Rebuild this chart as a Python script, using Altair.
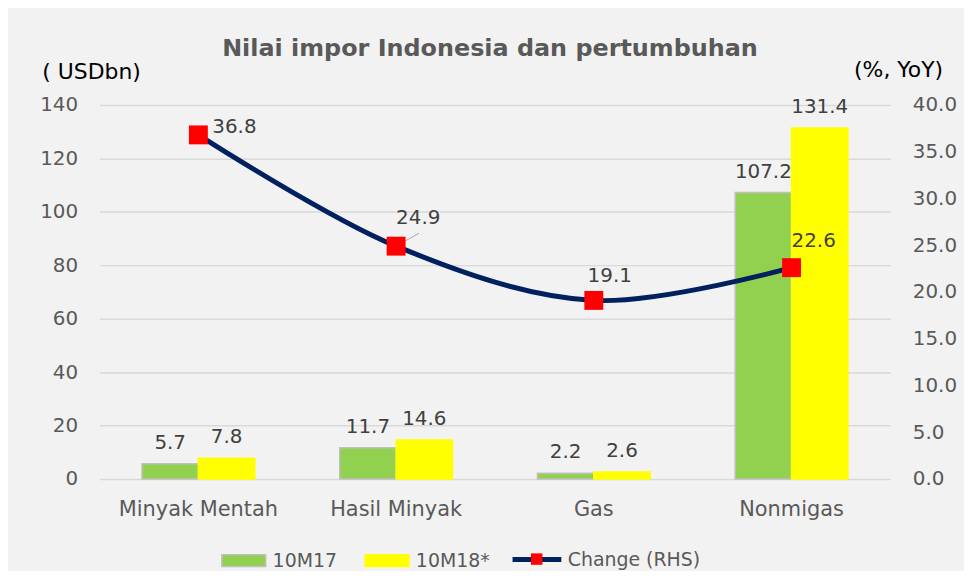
import altair as alt
import pandas as pd

CATEGORIES = ["Minyak Mentah", "Hasil Minyak", "Gas", "Nonmigas"]
SERIES = ["10M17", "10M18*"]
V_10M17 = [5.7, 11.7, 2.2, 107.2]
V_10M18 = [7.8, 14.6, 2.6, 131.4]
CHANGE = [36.8, 24.9, 19.1, 22.6]
LINE_LABEL = "Change (RHS)"
LEFT_TICKS = [0, 20, 40, 60, 80, 100, 120, 140]
RIGHT_TICKS = [0, 5, 10, 15, 20, 25, 30, 35, 40]

TITLE = "Nilai impor Indonesia dan pertumbuhan"
LEFT_TITLE = "( USDbn)"
RIGHT_TITLE = "(%, YoY)"

GREEN = "#92D050"
YELLOW = "#FFFF00"
NAVY = "#002060"
RED = "#FF0000"
GRAY_TXT = "#595959"
LABEL_TXT = "#404040"
FONT = "DejaVu Sans"

bars_df = pd.DataFrame({
    "category": CATEGORIES * 2,
    "series": [SERIES[0]] * len(CATEGORIES) + [SERIES[1]] * len(CATEGORIES),
    "value": V_10M17 + V_10M18,
})
line_df = pd.DataFrame({
    "category": CATEGORIES,
    "change": CHANGE,
    "lab": [LINE_LABEL] * len(CATEGORIES),
    "mk": ["marker"] * len(CATEGORIES),
})

x_enc = alt.X(
    "category:N", sort=CATEGORIES,
    scale=alt.Scale(paddingInner=0.43, paddingOuter=0.215),
    axis=alt.Axis(title=None, labelAngle=0, domain=False, ticks=False,
                  labelPadding=20, labelFontSize=21, labelColor=GRAY_TXT,
                  labelFont=FONT, grid=False),
)

y_left_scale = alt.Scale(domain=[0, 140], nice=False)
y_right_scale = alt.Scale(domain=[0, 40], nice=False)

bar_legend = alt.Legend(
    orient="none", legendX=122, legendY=435, direction="horizontal",
    title=None, padding=0, symbolType="M-1,-0.27H1V0.27H-1Z", symbolSize=1936,
    symbolStrokeWidth=1.5, labelFontSize=19, labelColor=GRAY_TXT,
    labelFont=FONT, labelOffset=6, columnPadding=25,
)

bars = alt.Chart(bars_df).mark_bar(strokeWidth=1.5).encode(
    x=x_enc,
    xOffset=alt.XOffset("series:N", sort=SERIES),
    y=alt.Y("value:Q", scale=y_left_scale,
            axis=alt.Axis(values=LEFT_TICKS, title=LEFT_TITLE, titleAngle=0,
                          titleAlign="left", titleBaseline="alphabetic",
                          titleX=-58, titleY=-27, titleFontSize=22,
                          titleFontWeight="normal", titleColor="#000000",
                          titleFont=FONT, labelFontSize=20, labelColor=GRAY_TXT,
                          labelFont=FONT, labelPadding=22, ticks=False,
                          domain=False, grid=True, gridColor="#D9D9D9",
                          gridWidth=1.5, orient="left")),
    fill=alt.Fill("series:N", scale=alt.Scale(domain=SERIES, range=[GREEN, YELLOW]),
                  legend=bar_legend),
    stroke=alt.Stroke("series:N", scale=alt.Scale(domain=SERIES, range=["#BFBFBF", YELLOW]),
                      legend=bar_legend),
)

bar_text = alt.Chart(bars_df).mark_text(
    dy=-15, baseline="alphabetic", fontSize=20, color=LABEL_TXT, font=FONT
).encode(
    x=x_enc,
    xOffset=alt.XOffset("series:N", sort=SERIES),
    y=alt.Y("value:Q", scale=y_left_scale),
    text=alt.Text("value:Q", format=".1f"),
)

left = alt.layer(bars, bar_text)

y_right = alt.Y("change:Q", scale=y_right_scale,
                axis=alt.Axis(values=RIGHT_TICKS, format=".1f", title=RIGHT_TITLE,
                              titleAngle=0, titleAlign="left",
                              titleBaseline="alphabetic", titleX=-37, titleY=-29,
                              titleFontSize=22, titleFontWeight="normal",
                              titleColor="#000000", titleFont=FONT,
                              labelFontSize=20, labelColor=GRAY_TXT, labelFont=FONT,
                              labelPadding=22, ticks=False, domain=False,
                              grid=False, orient="right"))
y_right_plain = alt.Y("change:Q", scale=y_right_scale)

line = alt.Chart(line_df).mark_line(interpolate="catmull-rom", strokeWidth=5).encode(
    x=x_enc,
    y=y_right,
    color=alt.Color("lab:N", scale=alt.Scale(range=[NAVY]),
                    legend=alt.Legend(orient="none", legendX=412.7, legendY=430,
                                      title=None, padding=0, symbolType="stroke",
                                      symbolSize=2401, symbolStrokeWidth=5,
                                      symbolStrokeColor=NAVY,
                                      labelFontSize=19, labelColor=GRAY_TXT,
                                      labelFont=FONT, labelOffset=4)),
)

leader = alt.Chart(line_df).transform_filter(
    alt.datum.category == "Hasil Minyak"
).mark_rule(color="#A6A6A6", strokeWidth=1, x2Offset=23, y2Offset=-13).encode(
    x=x_enc, x2="category:N", y=y_right_plain, y2="change:Q",
)

points = alt.Chart(line_df).mark_point(filled=True, size=361, color=RED, opacity=1,
                                       strokeWidth=0).encode(
    x=x_enc,
    y=y_right_plain,
    shape=alt.Shape("mk:N", scale=alt.Scale(range=["square"]),
                    legend=alt.Legend(orient="none", legendX=430, legendY=447,
                                      title=None, padding=0, symbolSize=132,
                                      symbolFillColor=RED, symbolStrokeColor=RED,
                                      symbolStrokeWidth=0, symbolOpacity=1,
                                      labelExpr="''", labelFontSize=19)),
)

LABEL_STYLE = {
    "Minyak Mentah": dict(align="left", dx=14, dy=-2),
    "Hasil Minyak": dict(align="left", dx=0, dy=-22),
    "Gas": dict(align="center", dx=16, dy=-18),
    "Nonmigas": dict(align="left", dx=0, dy=-21),
}

line_texts = []
for cat in CATEGORIES:
    st = LABEL_STYLE[cat]
    line_texts.append(
        alt.Chart(line_df).transform_filter(alt.datum.category == cat).mark_text(
            baseline="alphabetic", fontSize=20, color=LABEL_TXT, font=FONT, **st
        ).encode(
            x=x_enc, y=y_right_plain,
            text=alt.Text("change:Q", format=".1f"),
        )
    )

right = alt.layer(line, leader, points, *line_texts)

chart = alt.layer(left, right).resolve_scale(y="independent").properties(
    width=795, height=376,
    title=alt.TitleParams(TITLE, fontSize=24, fontWeight="bold", color=GRAY_TXT,
                          anchor="middle", frame="group", offset=3, dy=25,
                          baseline="alphabetic", dx=-5, font=FONT),
    padding={"left": 92, "top": 96, "right": 74, "bottom": 91},
    autosize=alt.AutoSizeParams(type="none"),
).configure(font=FONT, background="#F2F2F2").configure_view(stroke=None)

chart.save("out.html", embed_options={"renderer": "svg", "actions": False})
